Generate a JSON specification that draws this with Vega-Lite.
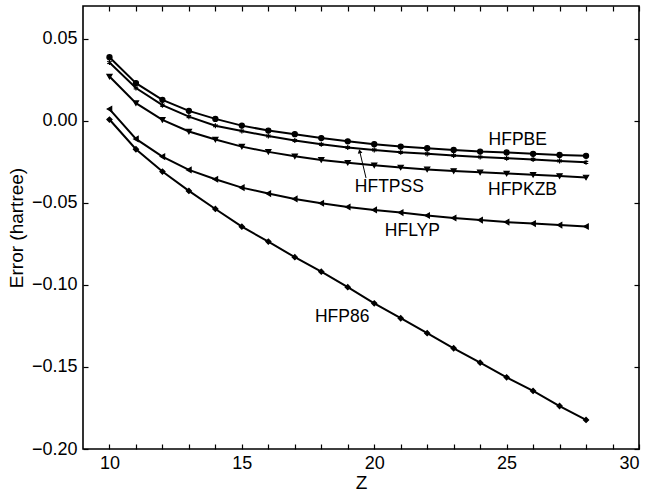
{
  "$schema": "https://vega.github.io/schema/vega-lite/v6.json",
  "width": 556,
  "height": 443,
  "autosize": {"type": "none"},
  "padding": {"left": 83, "top": 6, "right": 10, "bottom": 43},
  "background": "white",
  "config": {
    "view": {"stroke": "black", "strokeWidth": 1.6},
    "font": "Liberation Sans",
    "axis": {"grid": false, "domain": false, "tickColor": "black", "tickSize": 5, "tickWidth": 1.2, "offset": -5, "labelFont": "Liberation Sans", "labelFontSize": 18, "labelColor": "black", "titleFont": "Liberation Sans", "titleFontSize": 19, "titleFontWeight": "normal", "titleColor": "black"}
  },
  "datasets": {
    "curves": [
      {"s":"HFPBE","z":10,"e":0.0388},{"s":"HFPBE","z":11,"e":0.0230},{"s":"HFPBE","z":12,"e":0.0128},{"s":"HFPBE","z":13,"e":0.0061},{"s":"HFPBE","z":14,"e":0.0012},{"s":"HFPBE","z":15,"e":-0.0029},{"s":"HFPBE","z":16,"e":-0.0059},{"s":"HFPBE","z":17,"e":-0.0081},{"s":"HFPBE","z":18,"e":-0.0105},{"s":"HFPBE","z":19,"e":-0.0125},{"s":"HFPBE","z":20,"e":-0.0142},{"s":"HFPBE","z":21,"e":-0.0157},{"s":"HFPBE","z":22,"e":-0.0167},{"s":"HFPBE","z":23,"e":-0.0177},{"s":"HFPBE","z":24,"e":-0.0187},{"s":"HFPBE","z":25,"e":-0.0193},{"s":"HFPBE","z":26,"e":-0.0201},{"s":"HFPBE","z":27,"e":-0.0208},{"s":"HFPBE","z":28,"e":-0.0213},
      {"s":"HFTPSS","z":10,"e":0.0356},{"s":"HFTPSS","z":11,"e":0.0200},{"s":"HFTPSS","z":12,"e":0.0096},{"s":"HFTPSS","z":13,"e":0.0026},{"s":"HFTPSS","z":14,"e":-0.0030},{"s":"HFTPSS","z":15,"e":-0.0062},{"s":"HFTPSS","z":16,"e":-0.0092},{"s":"HFTPSS","z":17,"e":-0.0120},{"s":"HFTPSS","z":18,"e":-0.0143},{"s":"HFTPSS","z":19,"e":-0.0162},{"s":"HFTPSS","z":20,"e":-0.0177},{"s":"HFTPSS","z":21,"e":-0.0191},{"s":"HFTPSS","z":22,"e":-0.0201},{"s":"HFTPSS","z":23,"e":-0.0211},{"s":"HFTPSS","z":24,"e":-0.0220},{"s":"HFTPSS","z":25,"e":-0.0228},{"s":"HFTPSS","z":26,"e":-0.0235},{"s":"HFTPSS","z":27,"e":-0.0244},{"s":"HFTPSS","z":28,"e":-0.0252},
      {"s":"HFPKZB","z":10,"e":0.0270},{"s":"HFPKZB","z":11,"e":0.0108},{"s":"HFPKZB","z":12,"e":0.0006},{"s":"HFPKZB","z":13,"e":-0.0065},{"s":"HFPKZB","z":14,"e":-0.0114},{"s":"HFPKZB","z":15,"e":-0.0157},{"s":"HFPKZB","z":16,"e":-0.0189},{"s":"HFPKZB","z":17,"e":-0.0216},{"s":"HFPKZB","z":18,"e":-0.0238},{"s":"HFPKZB","z":19,"e":-0.0255},{"s":"HFPKZB","z":20,"e":-0.0271},{"s":"HFPKZB","z":21,"e":-0.0284},{"s":"HFPKZB","z":22,"e":-0.0296},{"s":"HFPKZB","z":23,"e":-0.0306},{"s":"HFPKZB","z":24,"e":-0.0314},{"s":"HFPKZB","z":25,"e":-0.0321},{"s":"HFPKZB","z":26,"e":-0.0329},{"s":"HFPKZB","z":27,"e":-0.0336},{"s":"HFPKZB","z":28,"e":-0.0345},
      {"s":"HFLYP","z":10,"e":0.0072},{"s":"HFLYP","z":11,"e":-0.0110},{"s":"HFLYP","z":12,"e":-0.0218},{"s":"HFLYP","z":13,"e":-0.0299},{"s":"HFLYP","z":14,"e":-0.0356},{"s":"HFLYP","z":15,"e":-0.0407},{"s":"HFLYP","z":16,"e":-0.0443},{"s":"HFLYP","z":17,"e":-0.0476},{"s":"HFLYP","z":18,"e":-0.0502},{"s":"HFLYP","z":19,"e":-0.0525},{"s":"HFLYP","z":20,"e":-0.0543},{"s":"HFLYP","z":21,"e":-0.0559},{"s":"HFLYP","z":22,"e":-0.0577},{"s":"HFLYP","z":23,"e":-0.0592},{"s":"HFLYP","z":24,"e":-0.0605},{"s":"HFLYP","z":25,"e":-0.0617},{"s":"HFLYP","z":26,"e":-0.0626},{"s":"HFLYP","z":27,"e":-0.0635},{"s":"HFLYP","z":28,"e":-0.0644},
      {"s":"HFP86","z":10,"e":0.0008},{"s":"HFP86","z":11,"e":-0.0173},{"s":"HFP86","z":12,"e":-0.0309},{"s":"HFP86","z":13,"e":-0.0427},{"s":"HFP86","z":14,"e":-0.0537},{"s":"HFP86","z":15,"e":-0.0645},{"s":"HFP86","z":16,"e":-0.0736},{"s":"HFP86","z":17,"e":-0.0831},{"s":"HFP86","z":18,"e":-0.0919},{"s":"HFP86","z":19,"e":-0.1014},{"s":"HFP86","z":20,"e":-0.1112},{"s":"HFP86","z":21,"e":-0.1203},{"s":"HFP86","z":22,"e":-0.1294},{"s":"HFP86","z":23,"e":-0.1386},{"s":"HFP86","z":24,"e":-0.1474},{"s":"HFP86","z":25,"e":-0.1563},{"s":"HFP86","z":26,"e":-0.1646},{"s":"HFP86","z":27,"e":-0.1738},{"s":"HFP86","z":28,"e":-0.1823}
    ],
    "labels": [
      {"t":"HFPBE","z":25.42,"e":-0.0116},
      {"t":"HFPKZB","z":25.6,"e":-0.0424},
      {"t":"HFTPSS","z":20.57,"e":-0.0401},
      {"t":"HFLYP","z":21.44,"e":-0.0669},
      {"t":"HFP86","z":18.79,"e":-0.1195}
    ],
    "arrow": [
      {"z":19.69,"e":-0.0348,"z2":19.45,"e2":-0.0185}
    ]
  },
  "layer": [
    {
      "data": {"name": "curves"},
      "mark": {"type": "line", "color": "black", "strokeWidth": 2},
      "encoding": {
        "x": {"field": "z", "type": "quantitative", "scale": {"domain": [9, 30], "nice": false, "zero": false},
              "axis": {"orient": "bottom", "values": [10,11,12,13,14,15,16,17,18,19,20,21,22,23,24,25,26,27,28,29,30], "labelExpr": "datum.value % 5 === 0 ? datum.label : ''", "labelPadding": 5, "title": "Z", "titlePadding": 1}},
        "y": {"field": "e", "type": "quantitative", "scale": {"domain": [-0.2, 0.07], "nice": false, "zero": false},
              "axis": {"orient": "left", "values": [-0.2,-0.15,-0.1,-0.05,0,0.05], "format": ".2f", "labelPadding": 6, "title": "Error (hartree)", "titlePadding": 5}},
        "detail": {"field": "s", "type": "nominal"}
      }
    },
    {
      "data": {"name": "curves"},
      "mark": {"type": "point", "filled": true, "color": "black", "stroke": "black", "strokeWidth": 1.2, "size": 26, "opacity": 1},
      "encoding": {
        "x": {"field": "z", "type": "quantitative",
              "axis": {"orient": "top", "values": [10,11,12,13,14,15,16,17,18,19,20,21,22,23,24,25,26,27,28,29,30], "labels": false, "title": null}},
        "y": {"field": "e", "type": "quantitative",
              "axis": {"orient": "right", "values": [-0.2,-0.15,-0.1,-0.05,0,0.05], "labels": false, "title": null}},
        "shape": {"field": "s", "type": "nominal", "legend": null,
                  "scale": {"domain": ["HFPBE","HFTPSS","HFPKZB","HFLYP","HFP86"],
                            "range": ["circle", "M0,-1L0,1M-0.87,-0.5L0.87,0.5M-0.87,0.5L0.87,-0.5", "triangle-down", "triangle-left", "diamond"]}}
      }
    },
    {
      "mark": {"type": "rule", "color": "black", "strokeWidth": 1.3, "strokeDash": [1.5, 4]},
      "encoding": {"y": {"datum": 0, "type": "quantitative", "axis": null}}
    },
    {
      "data": {"name": "labels"},
      "mark": {"type": "text", "fontSize": 17.5, "font": "Liberation Sans", "color": "black", "align": "center", "baseline": "middle"},
      "encoding": {
        "x": {"field": "z", "type": "quantitative", "axis": null},
        "y": {"field": "e", "type": "quantitative", "axis": null},
        "text": {"field": "t"}
      }
    },
    {
      "data": {"name": "arrow"},
      "mark": {"type": "rule", "color": "black", "strokeWidth": 1},
      "encoding": {
        "x": {"field": "z", "type": "quantitative", "axis": null},
        "y": {"field": "e", "type": "quantitative", "axis": null},
        "x2": {"field": "z2"},
        "y2": {"field": "e2"}
      }
    },
    {
      "data": {"name": "arrow"},
      "mark": {"type": "point", "shape": "triangle-up", "filled": true, "color": "black", "size": 22, "angle": -13, "opacity": 1},
      "encoding": {
        "x": {"field": "z2", "type": "quantitative", "axis": null},
        "y": {"field": "e2", "type": "quantitative", "axis": null}
      }
    }
  ],
  "resolve": {"axis": {"x": "independent", "y": "independent"}}
}
